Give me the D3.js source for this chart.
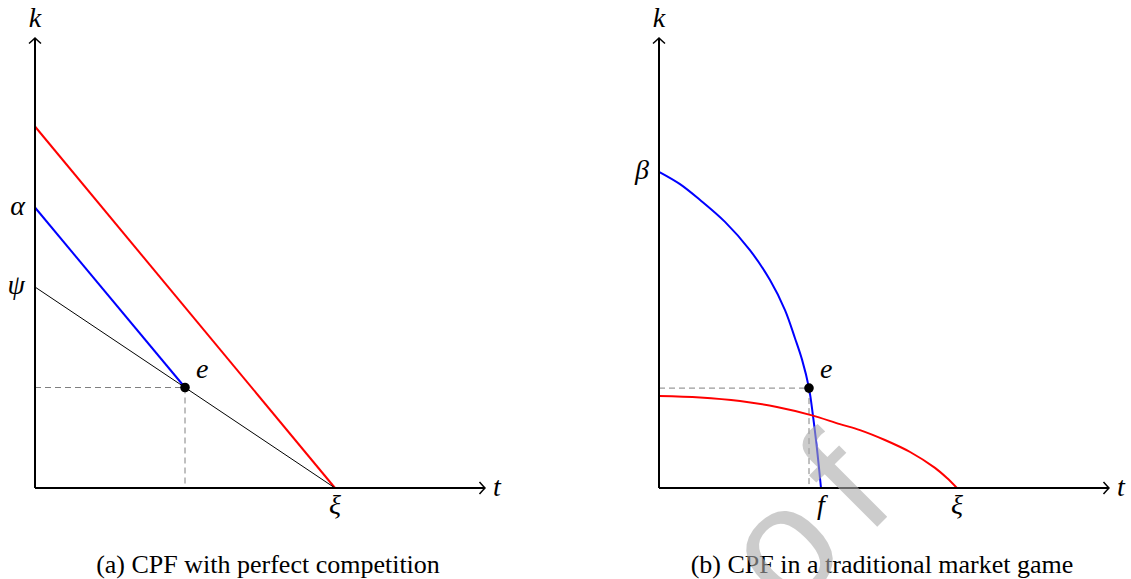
<!DOCTYPE html>
<html>
<head>
<meta charset="utf-8">
<script src="https://cdn.jsdelivr.net/npm/d3@7"></script>
<style>
  body { margin: 0; background: #fff; }
  svg { display: block; }
  .math { font-family: "Liberation Serif", serif; font-style: italic; font-size: 28px; }
  .caption { font-family: "Liberation Serif", serif; font-size: 26px; }
</style>
</head>
<body>
<svg id="chart" width="1131" height="579"></svg>
<script>
// data, in axis units (both axes run 0..15)
const axisMax = 15;

const leftRed = [[0, 12.05], [10, 0]];
const leftBlue = [[0, 9.35], [5, 3.35]];
const leftBlack = [[0, 6.7], [10, 0]];
const leftPoint = [5, 3.35];
const leftYLabels = [{ label: 'α', value: 9.35 }, { label: 'ψ', value: 6.7 }];
const leftXLabels = [{ label: 'ξ', value: 10 }];

const rightBlue = [[0, 10.54], [0.7, 10.13], [1.37, 9.6], [2.2, 8.87], [3.03, 7.93], [3.7, 6.93],
  [4.2, 5.93], [4.53, 5.0], [4.77, 4.27], [5.0, 3.33], [5.13, 2.43], [5.27, 1.27], [5.4, 0]];
const rightRed = [[0, 3.07], [1.37, 3.02], [2.7, 2.9], [3.93, 2.7], [5.07, 2.43], [6.03, 2.13],
  [6.7, 1.93], [7.53, 1.6], [8.37, 1.2], [9.2, 0.67], [9.6, 0.33], [9.93, 0]];
const rightPoint = [5.0, 3.33];
const rightYLabels = [{ label: 'β', value: 10.54 }];
const rightXLabels = [{ label: 'f', value: 5.4 }, { label: 'ξ', value: 9.93 }];

const captions = ['(a) CPF with perfect competition', '(b) CPF in a traditional market game'];

const svg = d3.select('#chart');
const x = d3.scaleLinear().domain([0, axisMax]).range([0, 450]);
const y = d3.scaleLinear().domain([0, axisMax]).range([450, 0]);
const line = d3.line().x((d) => x(d[0])).y((d) => y(d[1]));

const arrowHead = 'M -5.5,-6 Q -2,-2 0,0 Q -2,2 -5.5,6';

function drawPanel(g, opts) {
  // guide lines to the point
  const [px, py] = opts.point;
  g.append('path')
    .attr('d', line([[0, py], [px, py], [px, 0]]))
    .attr('fill', 'none')
    .attr('stroke', '#808080')
    .attr('stroke-width', 1)
    .attr('stroke-dasharray', '6,4');

  opts.curves.forEach((c) => {
    g.append('path')
      .attr('d', line.curve(c.curve || d3.curveLinear)(c.data))
      .attr('fill', 'none')
      .attr('stroke', c.color)
      .attr('stroke-width', c.width);
  });
  line.curve(d3.curveLinear);

  // axes
  g.append('line')
    .attr('x1', x(0)).attr('y1', y(0)).attr('x2', x(axisMax)).attr('y2', y(0))
    .attr('stroke', '#000').attr('stroke-width', 2);
  g.append('line')
    .attr('x1', x(0)).attr('y1', y(0)).attr('x2', x(0)).attr('y2', y(axisMax))
    .attr('stroke', '#000').attr('stroke-width', 2);
  g.append('path')
    .attr('d', arrowHead)
    .attr('transform', `translate(${x(axisMax)},${y(0)})`)
    .attr('fill', 'none').attr('stroke', '#000').attr('stroke-width', 1.5);
  g.append('path')
    .attr('d', arrowHead)
    .attr('transform', `translate(${x(0)},${y(axisMax)}) rotate(-90)`)
    .attr('fill', 'none').attr('stroke', '#000').attr('stroke-width', 1.5);

  g.append('text').attr('class', 'math')
    .attr('x', x(axisMax) + 8).attr('y', y(0) + 8).text('t');
  g.append('text').attr('class', 'math')
    .attr('x', x(0)).attr('y', y(axisMax) - 11).attr('text-anchor', 'middle').text('k');

  opts.yLabels.forEach((d) => {
    g.append('text').attr('class', 'math')
      .attr('x', x(0) - 10).attr('y', y(d.value) + 7)
      .attr('text-anchor', 'end').text(d.label);
  });
  opts.xLabels.forEach((d) => {
    g.append('text').attr('class', 'math')
      .attr('x', x(d.value)).attr('y', y(0) + 26)
      .attr('text-anchor', 'middle').text(d.label);
  });

  g.append('circle')
    .attr('cx', x(px)).attr('cy', y(py)).attr('r', 4.8).attr('fill', '#000');
  g.append('text').attr('class', 'math')
    .attr('x', x(px) + 11).attr('y', y(py) - 10).text('e');

  g.append('text').attr('class', 'caption')
    .attr('x', opts.captionX).attr('y', 535)
    .attr('text-anchor', 'middle').text(opts.caption);
}

drawPanel(svg.append('g').attr('transform', 'translate(35,38)'), {
  point: leftPoint,
  curves: [
    { data: leftRed, color: '#ff0000', width: 2 },
    { data: leftBlue, color: '#0000ff', width: 2 },
    { data: leftBlack, color: '#000', width: 1 },
  ],
  yLabels: leftYLabels,
  xLabels: leftXLabels,
  caption: captions[0],
  captionX: 233,
});

drawPanel(svg.append('g').attr('transform', 'translate(659,38)'), {
  point: rightPoint,
  curves: [
    { data: rightBlue, color: '#0000ff', width: 2, curve: d3.curveCatmullRom.alpha(0.5) },
    { data: rightRed, color: '#ff0000', width: 2, curve: d3.curveCatmullRom.alpha(0.5) },
  ],
  yLabels: rightYLabels,
  xLabels: rightXLabels,
  caption: captions[1],
  captionX: 223,
});

// watermark laid over everything
svg.append('text')
  .attr('transform', 'translate(915,489) rotate(-45)')
  .attr('text-anchor', 'end')
  .attr('font-family', '"Liberation Sans", sans-serif')
  .attr('font-size', 160)
  .attr('letter-spacing', 23)
  .attr('fill', '#aaa')
  .attr('fill-opacity', 0.6)
  .text('Proof');
</script>
</body>
</html>
